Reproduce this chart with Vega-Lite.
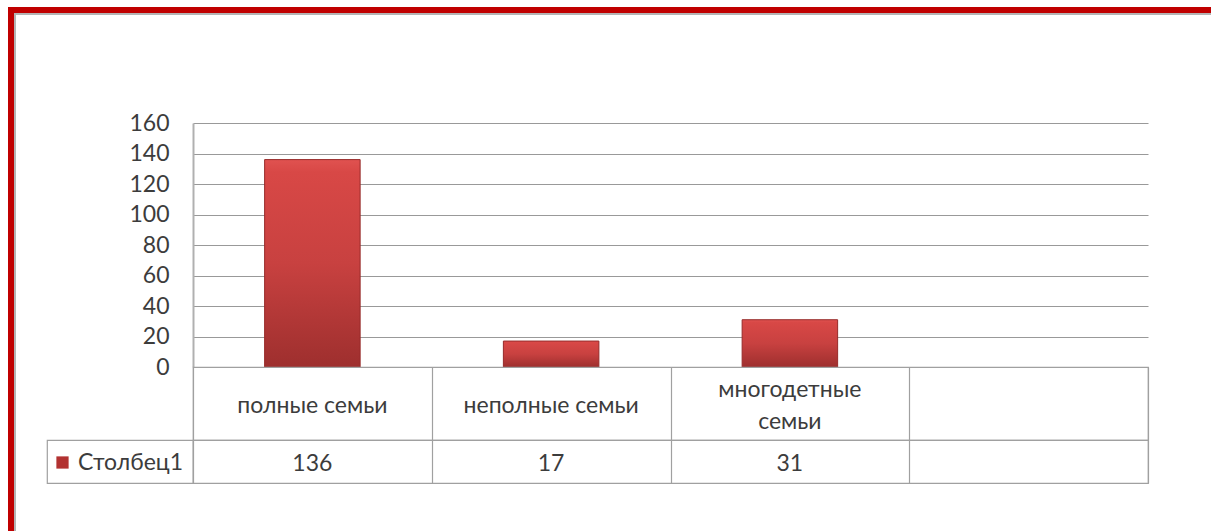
{
  "$schema": "https://vega.github.io/schema/vega-lite/v6.json",
  "padding": {"left": 8, "top": 7, "right": 0, "bottom": 0},
  "background": "#ffffff",
  "datasets": {
    "families": [
      {"category": "полные семьи", "value": 136, "series": "Столбец1"},
      {"category": "неполные семьи", "value": 17, "series": "Столбец1"},
      {"category": "многодетные\nсемьи", "value": 31, "series": "Столбец1"}
    ],
    "empty": []
  },
  "config": {
    "view": {"stroke": null},
    "font": "Lato",
    "axis": {"labelFont": "Lato", "labelColor": "#3c3c3c"},
    "legend": {"labelFont": "Lato", "labelColor": "#3c3c3c"}
  },
  "spacing": 0,
  "bounds": "flush",
  "resolve": {"scale": {"color": "independent"}, "legend": {"color": "independent"}},
  "vconcat": [
    {"width": 1203, "height": 6, "view": {"fill": "#c00000", "stroke": null}, "data": {"name": "empty"}, "mark": "point"},
    {
      "spacing": 0,
      "bounds": "flush",
      "resolve": {"scale": {"color": "independent"}, "legend": {"color": "independent"}},
      "hconcat": [
        {"width": 6, "height": 518, "view": {"fill": "#c00000", "stroke": null}, "data": {"name": "empty"}, "mark": "point"},
        {
          "spacing": 0,
          "bounds": "flush",
          "resolve": {"scale": {"color": "independent"}, "legend": {"color": "independent"}},
          "vconcat": [
            {"width": 1197, "height": 2, "view": {"fill": "#b4b4b4", "stroke": null}, "data": {"name": "empty"}, "mark": "point"},
            {
              "spacing": 31,
              "bounds": "flush",
              "resolve": {"scale": {"color": "independent"}, "legend": {"color": "independent"}},
              "hconcat": [
                {"width": 2, "height": 516, "view": {"fill": "#b4b4b4", "stroke": null}, "data": {"name": "empty"}, "mark": "point"},
                {
                  "columns": 2,
                  "spacing": 0,
                  "bounds": "flush",
                  "resolve": {"scale": {"color": "independent"}, "legend": {"color": "independent"}},
                  "concat": [
                    {"width": 146, "height": 108, "data": {"name": "empty"}, "mark": "point"},
                    {"width": 955, "height": 108, "data": {"name": "empty"}, "mark": "point"},
                    {"width": 146, "height": 244, "data": {"name": "empty"}, "mark": "point"},
                    {
                      "width": 955,
                      "height": 244,
                      "data": {"name": "families"},
                      "mark": {
                        "type": "bar",
                        "color": {"gradient": "linear", "x1": 0, "y1": 0, "x2": 0, "y2": 1,
                          "stops": [
                            {"offset": 0, "color": "#e05250"},
                            {"offset": 0.06, "color": "#d84846"},
                            {"offset": 0.5, "color": "#c84140"},
                            {"offset": 1, "color": "#9e2f2e"}
                          ]},
                        "stroke": "#962a29",
                        "strokeWidth": 1
                      },
                      "encoding": {
                        "x": {
                          "field": "category", "type": "nominal", "sort": null,
                          "scale": {"domain": ["полные семьи", "неполные семьи", "многодетные\nсемьи", ""], "paddingInner": 0.6, "paddingOuter": 0.3},
                          "axis": null
                        },
                        "y": {
                          "field": "value", "type": "quantitative",
                          "scale": {"domain": [0, 160], "nice": false},
                          "axis": {
                            "title": null,
                            "values": [0, 20, 40, 60, 80, 100, 120, 140, 160],
                            "grid": true, "gridColor": "#999999", "gridWidth": 1.2,
                            "ticks": false, "domain": true, "domainColor": "#b0b0b0", "domainWidth": 2,
                            "labelFontSize": 23, "labelPadding": 24
                          }
                        }
                      }
                    },
                    {"width": 146, "height": 73, "data": {"name": "empty"}, "mark": "point"},
                    {
                      "width": 955,
                      "height": 73,
                      "view": {"stroke": "#a0a0a0", "strokeWidth": 1.2},
                      "data": {"name": "families"},
                      "encoding": {
                        "x": {
                          "field": "category", "type": "nominal", "sort": null,
                          "scale": {"domain": ["полные семьи", "неполные семьи", "многодетные\nсемьи", ""], "paddingInner": 0, "paddingOuter": 0},
                          "axis": {"title": null, "labels": false, "ticks": false, "domain": false, "grid": true, "tickBand": "extent", "gridColor": "#a0a0a0", "gridWidth": 1.2}
                        },
                        "text": {"field": "category", "type": "nominal"}
                      },
                      "layer": [
                        {
                          "transform": [{"filter": {"not": {"field": "category", "oneOf": ["многодетные\nсемьи"]}}}],
                          "mark": {"type": "text", "fontSize": 23, "color": "#3c3c3c", "dy": 2}
                        },
                        {
                          "transform": [{"filter": {"field": "category", "oneOf": ["многодетные\nсемьи"]}}],
                          "mark": {"type": "text", "fontSize": 23, "color": "#3c3c3c", "lineBreak": "\n", "lineHeight": 32, "dy": -14}
                        }
                      ]
                    },
                    {
                      "width": 146, "height": 43,
                      "view": {"stroke": "#a0a0a0", "strokeWidth": 1.2},
                      "data": {"name": "empty"}, "mark": "point"
                    },
                    {
                      "width": 955,
                      "height": 43,
                      "view": {"stroke": "#a0a0a0", "strokeWidth": 1.2},
                      "layer": [
                        {
                          "data": {"name": "families"},
                          "mark": {"type": "text", "fontSize": 23, "color": "#3c3c3c", "dy": 2},
                          "encoding": {
                            "x": {
                              "field": "category", "type": "nominal", "sort": null,
                              "scale": {"domain": ["полные семьи", "неполные семьи", "многодетные\nсемьи", ""], "paddingInner": 0, "paddingOuter": 0},
                              "axis": {"title": null, "labels": false, "ticks": false, "domain": false, "grid": true, "tickBand": "extent", "gridColor": "#a0a0a0", "gridWidth": 1.2}
                            },
                            "text": {"field": "value", "type": "quantitative"}
                          }
                        },
                        {
                          "data": {"name": "empty"},
                          "mark": {"type": "square", "filled": true, "opacity": 1},
                          "encoding": {
                            "color": {
                              "field": "series", "type": "nominal",
                              "scale": {"domain": ["Столбец1"], "range": ["#b23231"]},
                              "legend": {
                                "title": null, "orient": "left", "offset": -2, "padding": 11,
                                "symbolType": "square", "symbolSize": 150, "symbolStrokeWidth": 0, "symbolOpacity": 1,
                                "labelFontSize": 23, "labelOffset": 4
                              }
                            }
                          }
                        }
                      ]
                    }
                  ]
                }
              ]
            }
          ]
        }
      ]
    }
  ]
}
